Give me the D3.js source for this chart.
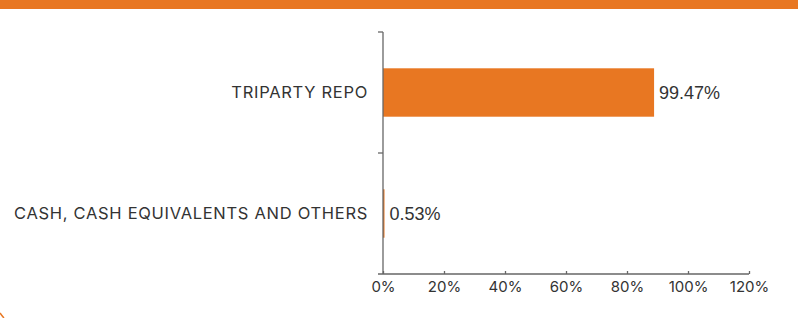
<!DOCTYPE html>
<html lang="en">
<head>
  <meta charset="UTF-8">
  <title>Asset Allocation</title>
  <script src="https://d3js.org/d3.v7.min.js"></script>
  <style>
    body { margin: 0; background: #fff; }
  </style>
</head>
<body>
  <svg id="chart" width="798" height="318"></svg>

  <script>
    const categories = ["TRIPARTY REPO", "CASH, CASH EQUIVALENTS AND OTHERS"]
    const values = [99.47, 0.53]
    const valueLabels = ["99.47%", "0.53%"]
    const tickValues = [0, 20, 40, 60, 80, 100, 120]

    const orange = "#E87722"
    const svg = d3.select("#chart")

    // orange band on top of the card
    svg.append("rect")
      .attr("x", 0).attr("y", 0)
      .attr("width", 798).attr("height", 9)
      .attr("fill", orange)

    // bit of the rounded card border at bottom-left
    svg.append("path")
      .attr("d", "M0,313 Q2,316 4,318")
      .attr("fill", "none")
      .attr("stroke", orange)
      .attr("stroke-width", 1.5)

    const margin = { top: 32, right: 49, bottom: 44, left: 383 }
    const width = 798 - margin.left - margin.right
    const height = 318 - margin.top - margin.bottom

    const g = svg.append("g")
      .attr("transform", "translate(" + margin.left + "," + margin.top + ")")

    const x = d3.scaleLinear().domain([0, 120]).range([0, width])

    // bars sit on a hidden secondary axis (auto max), which is why
    // the 99.47% bar stops short of the 100% tick
    const xBar = d3.scaleLinear().domain([0, 134.3]).range([0, width])

    const y = d3.scaleBand()
      .domain(categories)
      .range([0, height])
      .paddingInner(0.6)
      .paddingOuter(0.3)

    // bars
    g.selectAll(".bar")
      .data(values)
      .join("rect")
      .attr("class", "bar")
      .attr("x", 0)
      .attr("y", (d, i) => y(categories[i]))
      .attr("width", d => Math.max(xBar(d), 1.5))
      .attr("height", y.bandwidth())
      .attr("fill", orange)

    // value labels
    g.selectAll(".val")
      .data(values)
      .join("text")
      .attr("class", "val")
      .attr("x", d => Math.max(xBar(d), 1.5) + 5)
      .attr("y", (d, i) => y(categories[i]) + y.bandwidth() / 2)
      .attr("dy", "0.36em")
      .attr("fill", "#333")
      .style("font-family", "'Liberation Sans', Arial, sans-serif")
      .style("font-size", "18px")
      .text((d, i) => valueLabels[i])

    // y axis with ticks on the category boundaries
    const yAxis = g.append("g")
    yAxis.append("line")
      .attr("x1", 0).attr("x2", 0)
      .attr("y1", 0).attr("y2", height)
      .attr("stroke", "#666").attr("stroke-width", 1.3)
    const step = height / categories.length
    yAxis.selectAll(".ytick")
      .data(d3.range(categories.length))
      .join("line")
      .attr("x1", -5).attr("x2", 0)
      .attr("y1", i => i * step).attr("y2", i => i * step)
      .attr("stroke", "#666").attr("stroke-width", 1.3)

    yAxis.selectAll(".cat")
      .data(categories)
      .join("text")
      .attr("x", -15)
      .attr("y", d => y(d) + y.bandwidth() / 2)
      .attr("dy", "0.36em")
      .attr("text-anchor", "end")
      .attr("fill", "#333")
      .style("font-family", "Inter, 'Noto Sans', sans-serif")
      .style("font-size", "16.5px")
      .style("letter-spacing", "0.7px")
      .text(d => d)

    // x axis
    const xAxis = g.append("g")
      .attr("transform", "translate(0," + height + ")")
      .call(d3.axisBottom(x).tickValues(tickValues).tickFormat(d => d + "%").tickSize(3).tickPadding(4))
    xAxis.select(".domain").attr("stroke", "#666").attr("stroke-width", 1.3)
      .attr("d", "M-5,0H" + width)
    xAxis.selectAll(".tick line").attr("stroke", "#666").attr("stroke-width", 1.3)
      .attr("y1", -3).attr("y2", 0)
    xAxis.selectAll(".tick text")
      .attr("fill", "#333")
      .style("font-family", "Inter, 'Noto Sans', sans-serif")
      .style("font-size", "15px")
  </script>
</body>
</html>
